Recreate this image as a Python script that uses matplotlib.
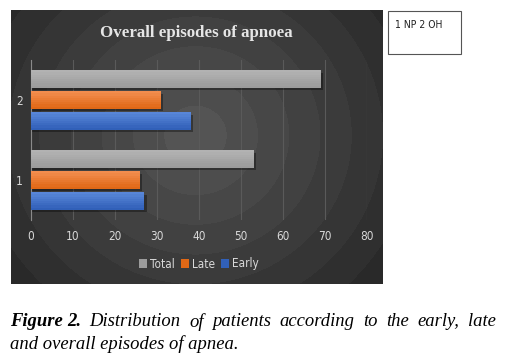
import numpy as np
import matplotlib
matplotlib.use("Agg")
import matplotlib.pyplot as plt
from matplotlib.patches import Patch, Rectangle
from matplotlib import font_manager as fm
from matplotlib.colors import to_rgb

# ---- data ----
categories = ["1", "2"]
series_names = ["Total", "Late", "Early"]
total = [53, 69]
late = [26, 31]
early = [27, 38]
xticks = [0, 10, 20, 30, 40, 50, 60, 70, 80]
title = "Overall episodes of apnoea"
box_text = "1 NP 2 OH"

W, H = 506, 360
fig = plt.figure(figsize=(W / 100, H / 100), dpi=100)
fig.patch.set_facecolor("white")

def fx(px):
    return px / W

def fy(py):
    return 1 - py / H

names = {f.name for f in fm.fontManager.ttflist}
if "Liberation Sans Narrow" in names:
    tickfont = ["Liberation Sans Narrow", "DejaVu Sans"]
    tstretch = "normal"
else:
    tickfont = ["DejaVu Sans"]
    tstretch = "condensed"

# ---- dark panel with banded radial gradient ----
px0, px1, py0, py1 = 11, 383, 10, 284
bg = fig.add_axes([fx(px0), fy(py1), fx(px1 - px0), (py1 - py0) / H])
bg.set_axis_off()
nx, ny = px1 - px0, py1 - py0
xx, yy = np.meshgrid(np.arange(nx), np.arange(ny))
cx, cy = 195 - px0, 135 - py0
r = np.sqrt((xx - cx) ** 2 + ((yy - cy) * 1.05) ** 2)
t = np.clip(r / 250.0, 0, 1)
t = np.floor(t * 8) / 8
val = 0x54 - (0x54 - 0x23) * t
img = np.dstack([val, val, val]) / 255.0
bg.imshow(img, extent=[0, nx, ny, 0], aspect="auto", interpolation="nearest")
bg.set_xlim(0, nx)
bg.set_ylim(ny, 0)

# ---- main axes ----
ax = fig.add_axes([fx(31), fy(220), fx(367 - 31), 160 / H])
ax.patch.set_alpha(0)
ax.set_xlim(0, 80)
ax.set_ylim(0.5, 2.5)

colors = {"Total": ("#9c9c9c", "#b2b2b2"),
          "Late": ("#e06816", "#f28d4e"),
          "Early": ("#3160b8", "#5886d8")}
offsets = {"Total": 0.2625, "Late": 0.0, "Early": -0.2625}
vals = {"Total": total, "Late": late, "Early": early}
hgt = 0.22
nstrip = 8

for i, cat in enumerate(categories):
    yc = i + 1
    for s in series_names:
        v = vals[s][i]
        y = yc + offsets[s]
        base, light = colors[s]
        b = np.array(to_rgb(base))
        l = np.array(to_rgb(light))
        ax.barh(y - 0.03, v + 0.5, height=hgt, left=0, color="black", alpha=0.35, zorder=2)
        sh = hgt / nstrip
        for k in range(nstrip):
            frac = k / (nstrip - 1)  # 0 bottom -> 1 top
            c = b * (1 - frac) + l * frac
            yk = y - hgt / 2 + sh * (k + 0.5)
            ax.barh(yk, v, height=sh * 1.05, left=0, color=c, zorder=3, linewidth=0)

ax.set_xticks(xticks)
ax.set_xticklabels([str(x) for x in xticks])
ax.set_yticks([1, 2])
ax.set_yticklabels(categories)
ax.grid(axis="x", color="#5a5a5a", linewidth=0.8, zorder=0)
ax.set_axisbelow(True)
for sp in ["top", "right", "bottom"]:
    ax.spines[sp].set_visible(False)
ax.spines["left"].set_color("#8a8a8a")
ax.spines["left"].set_linewidth(0.8)
ax.tick_params(axis="both", length=0, colors="#d9d9d9", labelsize=8.5)
ax.tick_params(axis="x", pad=7)
ax.tick_params(axis="y", pad=6)
for lab in ax.get_xticklabels() + ax.get_yticklabels():
    lab.set_family(tickfont)
    lab.set_stretch(tstretch)

# ---- title ----
fig.text(fx(196), fy(33), title, ha="center", va="center", color="#e6e6e6",
         fontsize=12.2, fontweight="bold", family=["Liberation Serif", "DejaVu Serif"])

# ---- legend ----
handles = [Patch(facecolor=colors[s][0], edgecolor="none") for s in series_names]
leg = fig.legend(handles, series_names, loc="center", bbox_to_anchor=(fx(199), fy(264)),
                 ncol=3, frameon=False, handlelength=0.7, handleheight=0.7,
                 handletextpad=0.25, columnspacing=0.5,
                 prop={"family": tickfont, "size": 8.5, "stretch": tstretch})
for txt in leg.get_texts():
    txt.set_color("#d9d9d9")

# ---- side box ----
fig.patches.append(Rectangle((fx(388), fy(54)), fx(461 - 388), (54 - 11) / H,
                             transform=fig.transFigure, facecolor="white",
                             edgecolor="#555555", linewidth=0.8))
fig.text(fx(395), fy(25), box_text, ha="left", va="center", color="#222222",
         fontsize=7.5, family=tickfont, stretch=tstretch)

# ---- caption (justified first line) ----
serif = ["Liberation Serif", "DejaVu Serif"]
cap_size = 13.4
line1 = [("Figure", "bold"), ("2.", "bold"), ("Distribution", "normal"), ("of", "normal"),
         ("patients", "normal"), ("according", "normal"), ("to", "normal"),
         ("the", "normal"), ("early,", "normal"), ("late", "normal")]
fig.canvas.draw()
renderer = fig.canvas.get_renderer()
objs = []
widths = []
for w, wt in line1:
    t_ = fig.text(0, fy(322), w, ha="left", va="center", fontsize=cap_size,
                  style="italic", fontweight=wt, family=serif, color="black")
    objs.append(t_)
    widths.append(t_.get_window_extent(renderer).width)
left_px, right_px = 10, 496
normal_space = 4.0
extra = (right_px - left_px - sum(widths) - normal_space) / (len(widths) - 2)
xcur = left_px
for k, (t_, w) in enumerate(zip(objs, widths)):
    t_.set_x(fx(xcur))
    xcur += w + (normal_space if k == 0 else extra)
fig.text(fx(10), fy(344), "and overall episodes of apnea.", ha="left", va="center",
         fontsize=cap_size, style="italic", family=serif, color="black")

fig.savefig("out.png", dpi=100, facecolor="white")
